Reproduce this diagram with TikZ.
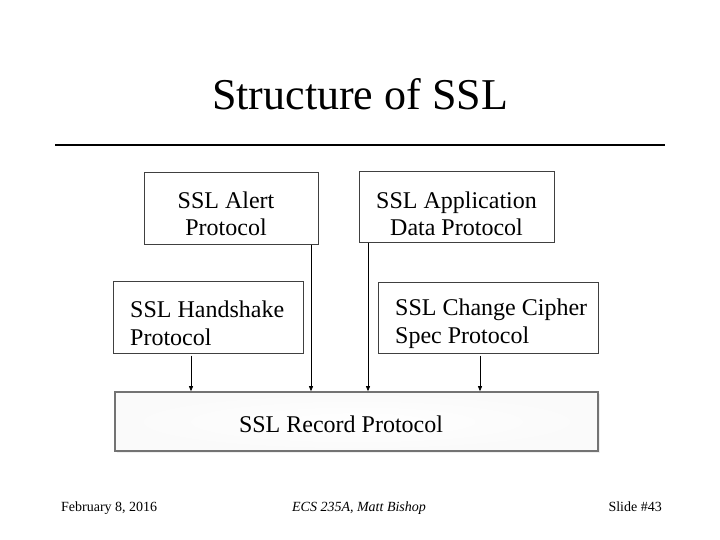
\documentclass[tikz,border=0pt]{standalone}
\usepackage{fontspec}
\setmainfont{Liberation Serif}
\usetikzlibrary{shadows,arrows.meta}
\begin{document}
\begin{tikzpicture}[x=1pt,y=-1pt,
  proto/.style={draw=black!75, line width=1pt, fill=white},
  ptext/.style={font=\fontsize{24}{28}\selectfont, inner sep=0pt, anchor=base},
  link/.style={draw=black, line width=0.6pt, -{Triangle[length=5pt,width=4pt]}},
  foot/.style={font=\fontsize{14}{16}\selectfont, inner sep=0pt}
]
\useasboundingbox (0,0) rectangle (720,540);
\fill[white] (0,0) rectangle (720,540);
% title
\node[font=\fontsize{44}{50}\selectfont, anchor=base, inner sep=0pt] (title) at (360,110) {Structure of SSL};
\coordinate (rl) at (55,145);
\coordinate (rr) at (665,145);
\draw[line width=2.5pt] (rl) -- (rr);
% boxes
\node[proto, minimum width=174pt, minimum height=71pt] (alert) at (231,208.5) {};
\node[ptext, align=center] (alertt) at (226,236) {SSL Alert\\Protocol};
\node[proto, minimum width=195pt, minimum height=70pt] (app) at (456.5,207) {};
\node[ptext, align=center] (appt) at (456.5,236) {SSL Application\\Data Protocol};
\node[proto, minimum width=190pt, minimum height=72pt] (hand) at (208,317) {};
\node[ptext, anchor=base west, align=left] (handt) at (130,345) {SSL Handshake\\Protocol};
\node[proto, minimum width=220pt, minimum height=71pt] (ccs) at (488,317.5) {};
\node[ptext, anchor=base west, align=left] (ccst) at (395,343) {SSL Change Cipher\\Spec Protocol};
\node[draw=black!55, line width=1.6pt, minimum width=483pt, minimum height=59pt,
  inner color=white, outer color=black!2,
  drop shadow={shadow xshift=2pt, shadow yshift=-2pt, fill=black!10, opacity=0.6}] (rec) at (356.5,421.5) {};
\node[ptext] (rect) at (341,432) {SSL Record Protocol};
% connectors
\draw[link] (alert.south -| 311,0) -- (rec.north -| 311,0);
\draw[link] (app.south -| 368,0) -- (rec.north -| 368,0);
\draw[link] ([yshift=-2pt]hand.south -| 191,0) -- (rec.north -| 191,0);
\draw[link] ([yshift=-2pt]ccs.south -| 480,0) -- (rec.north -| 480,0);
% footer
\node[foot, anchor=base west] (date) at (61,511) {February 8, 2016};
\node[foot, anchor=base, font=\fontsize{14}{16}\selectfont\itshape] (course) at (359,511) {ECS 235A, Matt Bishop};
\node[foot, anchor=base east] (slide) at (662,511) {Slide \#43};
\end{tikzpicture}
\end{document}
